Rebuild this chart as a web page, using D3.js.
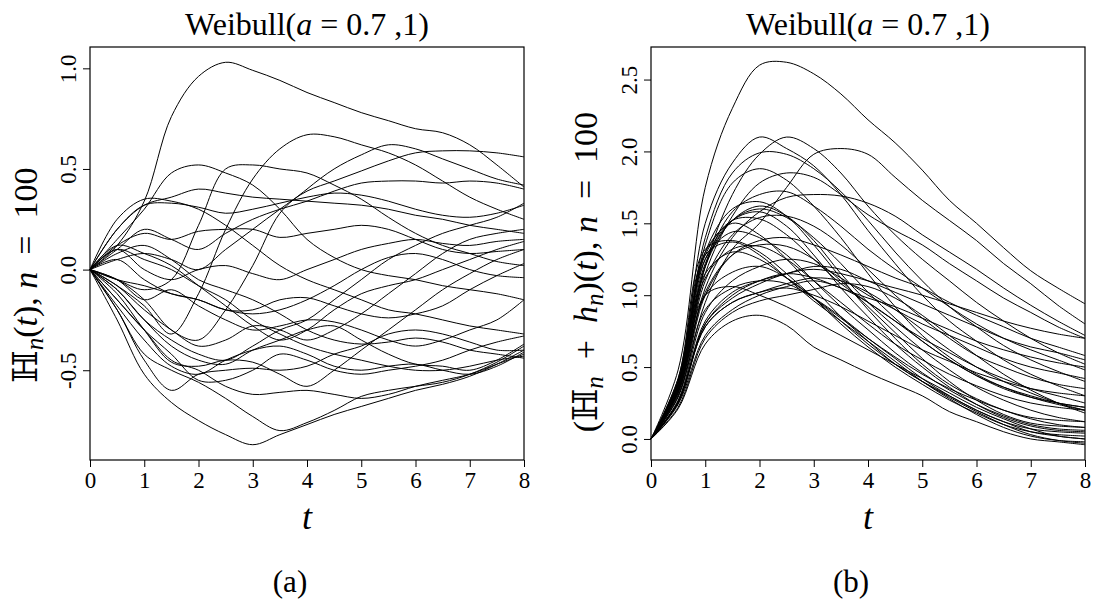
<!DOCTYPE html>
<html>
<head>
<meta charset="utf-8">
<script src="https://cdn.jsdelivr.net/npm/d3@7"></script>
<style>
  html, body { margin: 0; padding: 0; background: #fff; }
  svg { display: block; }
  text { font-family: "Liberation Serif", "DejaVu Serif", serif; fill: #000; }
</style>
</head>
<body>
<svg id="fig" width="1099" height="608"></svg>
<script>
// time grid shared by every sample path
const tValues = [0, 0.5, 1, 1.5, 2, 2.5, 3, 3.5, 4, 4.5, 5, 5.5, 6, 6.5, 7, 7.5, 8];
const xTicks = [0, 1, 2, 3, 4, 5, 6, 7, 8];
const yTicksA = [-0.5, 0.0, 0.5, 1.0];
const yTicksB = [0.0, 0.5, 1.0, 1.5, 2.0, 2.5];

// panel (a): paths of the process H_n(t)
const pathsA = [
  [0, 0.12, 0.34, 0.76, 0.96, 1.03, 0.99, 0.94, 0.88, 0.83, 0.78, 0.74, 0.70, 0.68, 0.62, 0.52, 0.41],
  [0, -0.08, -0.18, -0.32, -0.12, 0.20, 0.45, 0.60, 0.67, 0.66, 0.62, 0.58, 0.52, 0.44, 0.36, 0.30, 0.25],
  [0, -0.05, -0.15, -0.30, -0.35, -0.20, 0.02, 0.28, 0.40, 0.50, 0.57, 0.62, 0.60, 0.55, 0.50, 0.45, 0.42],
  [0, 0.05, 0.08, 0.05, 0.00, 0.10, 0.20, 0.30, 0.39, 0.44, 0.49, 0.54, 0.58, 0.59, 0.59, 0.58, 0.56],
  [0, 0.10, 0.20, 0.15, 0.10, 0.18, 0.25, 0.30, 0.34, 0.39, 0.43, 0.44, 0.44, 0.43, 0.44, 0.43, 0.40],
  [0, 0.15, 0.30, 0.48, 0.52, 0.48, 0.42, 0.30, 0.15, 0.06, 0.00, -0.03, -0.05, -0.08, -0.10, -0.12, -0.15],
  [0, -0.05, -0.10, -0.05, 0.22, 0.50, 0.52, 0.50, 0.48, 0.42, 0.35, 0.26, 0.18, 0.12, 0.08, 0.04, 0.02],
  [0, 0.20, 0.32, 0.36, 0.40, 0.38, 0.36, 0.35, 0.34, 0.33, 0.32, 0.30, 0.27, 0.25, 0.22, 0.20, 0.18],
  [0, 0.25, 0.35, 0.34, 0.30, 0.22, 0.12, 0.02, -0.05, -0.10, -0.15, -0.20, -0.22, -0.25, -0.28, -0.30, -0.32],
  [0, 0.20, 0.32, 0.33, 0.31, 0.28, 0.30, 0.33, 0.36, 0.38, 0.37, 0.34, 0.30, 0.27, 0.26, 0.28, 0.32],
  [0, 0.12, 0.18, 0.15, 0.19, 0.20, 0.20, 0.16, 0.18, 0.20, 0.22, 0.20, 0.15, 0.10, 0.08, 0.09, 0.10],
  [0, 0.10, 0.00, -0.05, 0.00, 0.02, -0.02, -0.05, 0.00, 0.05, 0.10, 0.13, 0.15, 0.13, 0.12, 0.14, 0.15],
  [0, -0.25, -0.52, -0.66, -0.75, -0.82, -0.87, -0.82, -0.77, -0.72, -0.68, -0.64, -0.60, -0.57, -0.53, -0.47, -0.40],
  [0, -0.20, -0.42, -0.50, -0.56, -0.64, -0.73, -0.80, -0.76, -0.70, -0.63, -0.60, -0.58, -0.56, -0.52, -0.46, -0.38],
  [0, -0.15, -0.30, -0.45, -0.50, -0.58, -0.62, -0.61, -0.60, -0.62, -0.64, -0.62, -0.58, -0.55, -0.52, -0.47, -0.42],
  [0, -0.20, -0.45, -0.60, -0.52, -0.50, -0.49, -0.50, -0.48, -0.42, -0.38, -0.32, -0.30, -0.32, -0.36, -0.40, -0.40],
  [0, -0.18, -0.35, -0.48, -0.52, -0.45, -0.40, -0.38, -0.42, -0.48, -0.50, -0.48, -0.47, -0.50, -0.52, -0.48, -0.41],
  [0, -0.15, -0.30, -0.42, -0.55, -0.55, -0.50, -0.42, -0.45, -0.50, -0.52, -0.50, -0.48, -0.45, -0.40, -0.36, -0.33],
  [0, -0.10, -0.25, -0.38, -0.45, -0.47, -0.40, -0.35, -0.30, -0.28, -0.35, -0.42, -0.47, -0.48, -0.50, -0.45, -0.37],
  [0, -0.12, -0.30, -0.46, -0.48, -0.45, -0.46, -0.52, -0.58, -0.50, -0.40, -0.30, -0.20, -0.10, -0.02, 0.05, 0.10],
  [0, -0.10, -0.25, -0.35, -0.42, -0.45, -0.38, -0.30, -0.25, -0.15, -0.05, 0.05, 0.12, 0.18, 0.22, 0.26, 0.33],
  [0, -0.08, -0.20, -0.30, -0.38, -0.35, -0.28, -0.30, -0.35, -0.30, -0.22, -0.12, -0.02, 0.08, 0.15, 0.18, 0.20],
  [0, -0.05, -0.15, -0.10, -0.18, -0.25, -0.30, -0.28, -0.25, -0.26, -0.30, -0.35, -0.38, -0.35, -0.30, -0.25, -0.15],
  [0, 0.05, -0.05, -0.12, -0.15, -0.20, -0.20, -0.15, -0.14, -0.18, -0.22, -0.24, -0.22, -0.18, -0.10, -0.03, 0.03],
  [0, 0.10, 0.05, 0.00, -0.08, -0.15, -0.25, -0.32, -0.38, -0.42, -0.45, -0.48, -0.50, -0.50, -0.48, -0.45, -0.43],
  [0, 0.08, 0.12, 0.05, -0.05, -0.10, -0.15, -0.22, -0.30, -0.35, -0.37, -0.36, -0.34, -0.36, -0.40, -0.42, -0.44],
  [0, -0.05, -0.08, -0.12, -0.15, -0.20, -0.22, -0.20, -0.15, -0.08, 0.00, 0.06, 0.08, 0.05, 0.00, -0.03, -0.04],
  [0, 0.12, 0.08, 0.02, -0.08, -0.18, -0.28, -0.35, -0.30, -0.20, -0.12, -0.08, -0.05, 0.00, 0.05, 0.10, 0.14]
];

// panel (b): paths of H_n + h_n
const pathsB = [
  [0, 0.48, 1.75, 2.30, 2.60, 2.62, 2.54, 2.40, 2.22, 2.06, 1.87, 1.66, 1.50, 1.33, 1.17, 1.05, 0.94],
  [0, 0.42, 1.50, 1.92, 2.10, 2.02, 1.90, 1.70, 1.45, 1.22, 1.00, 0.82, 0.68, 0.55, 0.45, 0.37, 0.30],
  [0, 0.34, 1.20, 1.70, 1.98, 2.10, 2.02, 1.85, 1.62, 1.42, 1.25, 1.10, 0.95, 0.82, 0.70, 0.60, 0.52],
  [0, 0.30, 0.95, 1.32, 1.50, 1.75, 1.98, 2.02, 1.98, 1.82, 1.66, 1.52, 1.38, 1.22, 1.08, 0.93, 0.80],
  [0, 0.40, 1.40, 1.85, 1.99, 1.98, 1.88, 1.72, 1.52, 1.30, 1.10, 0.92, 0.78, 0.65, 0.55, 0.47, 0.40],
  [0, 0.38, 1.35, 1.78, 1.88, 1.80, 1.62, 1.40, 1.15, 0.92, 0.72, 0.57, 0.45, 0.36, 0.29, 0.24, 0.20],
  [0, 0.34, 1.15, 1.55, 1.78, 1.85, 1.82, 1.70, 1.56, 1.45, 1.35, 1.22, 1.10, 0.98, 0.88, 0.78, 0.70],
  [0, 0.32, 1.05, 1.40, 1.58, 1.68, 1.70, 1.69, 1.64, 1.55, 1.42, 1.30, 1.18, 1.05, 0.93, 0.82, 0.72],
  [0, 0.36, 1.20, 1.58, 1.70, 1.72, 1.62, 1.48, 1.32, 1.18, 1.05, 0.92, 0.80, 0.70, 0.62, 0.55, 0.48],
  [0, 0.38, 1.30, 1.60, 1.65, 1.55, 1.35, 1.12, 0.90, 0.70, 0.52, 0.38, 0.28, 0.20, 0.14, 0.10, 0.08],
  [0, 0.35, 1.20, 1.52, 1.62, 1.55, 1.38, 1.15, 0.95, 0.78, 0.62, 0.48, 0.36, 0.27, 0.20, 0.15, 0.12],
  [0, 0.36, 1.25, 1.52, 1.58, 1.48, 1.28, 1.05, 0.85, 0.66, 0.50, 0.36, 0.24, 0.15, 0.09, 0.06, 0.05],
  [0, 0.37, 1.28, 1.52, 1.53, 1.42, 1.25, 1.08, 0.95, 0.82, 0.70, 0.60, 0.50, 0.42, 0.35, 0.30, 0.25],
  [0, 0.40, 1.30, 1.50, 1.42, 1.25, 1.05, 0.85, 0.68, 0.52, 0.40, 0.30, 0.20, 0.12, 0.05, 0.02, 0.00],
  [0, 0.38, 1.25, 1.44, 1.40, 1.28, 1.10, 0.92, 0.76, 0.60, 0.46, 0.34, 0.24, 0.16, 0.10, 0.07, 0.06],
  [0, 0.42, 1.32, 1.38, 1.30, 1.15, 0.98, 0.80, 0.64, 0.50, 0.38, 0.27, 0.18, 0.10, 0.05, 0.03, 0.02],
  [0, 0.40, 1.28, 1.37, 1.28, 1.12, 0.96, 0.82, 0.68, 0.54, 0.40, 0.28, 0.17, 0.08, 0.02, -0.01, -0.02],
  [0, 0.30, 1.00, 1.28, 1.38, 1.40, 1.35, 1.28, 1.20, 1.12, 1.05, 0.95, 0.86, 0.78, 0.70, 0.64, 0.58],
  [0, 0.34, 1.12, 1.32, 1.34, 1.25, 1.10, 0.95, 0.80, 0.66, 0.55, 0.45, 0.37, 0.30, 0.25, 0.22, 0.20],
  [0, 0.37, 1.15, 1.30, 1.25, 1.12, 0.98, 0.84, 0.70, 0.57, 0.45, 0.35, 0.27, 0.20, 0.15, 0.13, 0.12],
  [0, 0.27, 0.88, 1.10, 1.20, 1.25, 1.22, 1.12, 1.00, 0.90, 0.80, 0.72, 0.64, 0.56, 0.50, 0.46, 0.42],
  [0, 0.26, 0.82, 1.02, 1.10, 1.15, 1.20, 1.18, 1.10, 1.02, 0.94, 0.86, 0.78, 0.70, 0.64, 0.60, 0.55],
  [0, 0.25, 0.80, 1.00, 1.10, 1.15, 1.12, 1.05, 0.98, 0.92, 0.84, 0.76, 0.68, 0.62, 0.57, 0.53, 0.50],
  [0, 0.26, 0.78, 0.95, 1.02, 1.08, 1.12, 1.10, 1.02, 0.90, 0.76, 0.62, 0.50, 0.40, 0.32, 0.25, 0.20],
  [0, 0.29, 0.90, 1.05, 1.10, 1.08, 0.98, 0.85, 0.70, 0.56, 0.42, 0.30, 0.20, 0.12, 0.07, 0.05, 0.04],
  [0, 0.34, 1.00, 1.06, 1.00, 0.92, 0.82, 0.72, 0.62, 0.52, 0.42, 0.32, 0.22, 0.14, 0.07, 0.02, 0.00],
  [0, 0.25, 0.78, 0.95, 1.02, 1.05, 1.00, 0.92, 0.82, 0.72, 0.62, 0.54, 0.46, 0.40, 0.35, 0.32, 0.30],
  [0, 0.24, 0.72, 0.90, 1.00, 1.06, 1.10, 1.05, 0.95, 0.82, 0.68, 0.55, 0.44, 0.35, 0.29, 0.25, 0.22],
  [0, 0.21, 0.66, 0.82, 0.86, 0.79, 0.64, 0.55, 0.46, 0.38, 0.30, 0.19, 0.12, 0.05, 0.00, -0.02, -0.04],
  [0, 0.26, 0.80, 0.98, 1.08, 1.15, 1.18, 1.15, 1.10, 1.05, 1.00, 0.94, 0.88, 0.82, 0.77, 0.73, 0.70],
  [0, 0.32, 1.00, 1.16, 1.20, 1.12, 0.98, 0.82, 0.66, 0.52, 0.40, 0.29, 0.19, 0.10, 0.03, -0.01, -0.03],
  [0, 0.22, 0.70, 0.88, 0.96, 1.00, 1.04, 1.08, 1.06, 0.98, 0.86, 0.72, 0.58, 0.45, 0.34, 0.25, 0.18],
  [0, 0.37, 1.22, 1.52, 1.60, 1.54, 1.40, 1.22, 1.02, 0.84, 0.68, 0.55, 0.44, 0.36, 0.30, 0.25, 0.22],
  [0, 0.33, 1.10, 1.42, 1.54, 1.55, 1.48, 1.35, 1.18, 1.00, 0.84, 0.70, 0.58, 0.50, 0.43, 0.38, 0.35],
  [0, 0.32, 1.02, 1.28, 1.35, 1.34, 1.25, 1.10, 0.92, 0.74, 0.56, 0.40, 0.27, 0.17, 0.11, 0.09, 0.08]
];

const svg = d3.select("#fig");

// pad a data range by 4% on each side
function padded(paths) {
  const lo = d3.min(paths, p => d3.min(p));
  const hi = d3.max(paths, p => d3.max(p));
  const d = (hi - lo) * 0.04;
  return [lo - d, hi + d];
}

function drawPanel(cfg) {
  const { x0, x1, y0, y1, paths, yTicks, yFormat, tag } = cfg;
  const x = d3.scaleLinear().domain([0, 8]).range([x0, x1]);
  const y = d3.scaleLinear().domain(padded(paths)).range([y1, y0]);
  const g = svg.append("g");

  const line = d3.line()
    .x((v, i) => x(tValues[i]))
    .y(v => y(v))
    .curve(d3.curveCatmullRom.alpha(0.5));

  g.append("g")
    .selectAll("path")
    .data(paths)
    .join("path")
    .attr("d", line)
    .attr("fill", "none")
    .attr("stroke", "#000")
    .attr("stroke-width", 1);

  // frame
  g.append("rect")
    .attr("x", x0).attr("y", y0)
    .attr("width", x1 - x0).attr("height", y1 - y0)
    .attr("fill", "none").attr("stroke", "#000").attr("stroke-width", 1.2);

  // x axis
  const xa = g.append("g").attr("transform", `translate(0,${y1})`)
    .call(d3.axisBottom(x).tickValues(xTicks).tickSize(7).tickPadding(5).tickFormat(d3.format("d")));
  xa.select(".domain").remove();
  xa.selectAll("line").attr("stroke", "#000").attr("stroke-width", 1);
  xa.selectAll("text").attr("font-size", 23).attr("font-family", "Liberation Serif, serif");

  // y axis with labels parallel to the axis
  const ya = g.append("g").attr("transform", `translate(${x0},0)`)
    .call(d3.axisLeft(y).tickValues(yTicks).tickSize(7).tickFormat(yFormat));
  ya.select(".domain").remove();
  ya.selectAll("line").attr("stroke", "#000").attr("stroke-width", 1);
  ya.selectAll("text")
    .attr("font-size", 23)
    .attr("font-family", "Liberation Serif, serif")
    .attr("text-anchor", "middle")
    .attr("x", 0).attr("dy", null)
    .attr("dominant-baseline", "central")
    .attr("transform", "translate(-22,0) rotate(-90)");

  // title
  const title = g.append("text")
    .attr("x", (x0 + x1) / 2).attr("y", 35)
    .attr("text-anchor", "middle").attr("font-size", 32);
  title.append("tspan").text("Weibull(");
  title.append("tspan").attr("font-style", "italic").text("a");
  title.append("tspan").text(" = 0.7 ,1)");

  // x label
  g.append("text")
    .attr("x", (x0 + x1) / 2).attr("y", 529)
    .attr("text-anchor", "middle").attr("font-size", 36)
    .attr("font-style", "italic").text("t");

  // panel tag
  g.append("text")
    .attr("x", cfg.tagX).attr("y", 592)
    .attr("text-anchor", "middle").attr("font-size", 31).text(tag);

  return { x, y };
}

const fmtA = d => d3.format(".1f")(d).replace("\u2212", "-");

drawPanel({ x0: 90, x1: 524, y0: 47, y1: 460, paths: pathsA, yTicks: yTicksA,
  yFormat: fmtA, tag: "(a)", tagX: 290 });
drawPanel({ x0: 651, x1: 1085, y0: 47, y1: 460, paths: pathsB, yTicks: yTicksB,
  yFormat: fmtA, tag: "(b)", tagX: 851 });

// y-axis titles, written along the axis
function yTitle(cx, cy, parts) {
  const t = svg.append("text")
    .attr("transform", `translate(${cx},${cy}) rotate(-90)`)
    .attr("text-anchor", "middle").attr("font-size", 34);
  parts.forEach(p => {
    const s = t.append("tspan").text(p.s);
    if (p.it) s.attr("font-style", "italic");
    if (p.sub) s.attr("baseline-shift", "-25%").attr("font-size", 25);
    if (p.font) s.attr("font-family", p.font);
  });
}

yTitle(37, 275, [
  { s: "\u210D", font: "DejaVu Serif" }, { s: "n", it: true, sub: true },
  { s: "(" }, { s: "t", it: true }, { s: "), " }, { s: "n", it: true }, { s: "\u2002=\u2002100" }
]);
yTitle(597, 272, [
  { s: "(" }, { s: "\u210D", font: "DejaVu Serif" }, { s: "n", it: true, sub: true },
  { s: "\u2002+\u2002" }, { s: "h", it: true }, { s: "n", it: true, sub: true },
  { s: ")(" }, { s: "t", it: true }, { s: "), " }, { s: "n", it: true }, { s: "\u2002=\u2002100" }
]);
</script>
</body>
</html>
